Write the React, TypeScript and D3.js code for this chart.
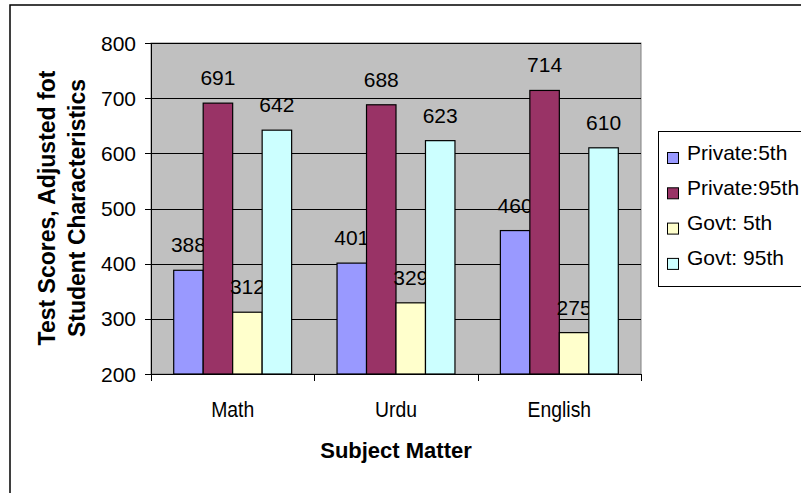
import React from "react";
import * as d3 from "d3";

const categories = ["Math", "Urdu", "English"];
const seriesNames = ["Private:5th", "Private:95th", "Govt: 5th", "Govt: 95th"];
const private5 = [388, 401, 460];
const private95 = [691, 688, 714];
const govt5 = [312, 329, 275];
const govt95 = [642, 623, 610];
const yTicks = [200, 300, 400, 500, 600, 700, 800];
const colors = ["#9999FF", "#993366", "#FFFFCC", "#CCFFFF"];

const W = 801;
const H = 493;
const plot = { left: 151, right: 641, top: 43, bottom: 374 };
const FONT = "Arial, 'Liberation Sans', Helvetica, sans-serif";

export default function App() {
  const series = [private5, private95, govt5, govt95];
  const x = d3.scaleBand<string>().domain(categories).range([plot.left, plot.right]).padding(0);
  const xs = d3.scaleBand<string>().domain(seriesNames).range([0, x.bandwidth()]).paddingInner(0).paddingOuter(0.77);
  const y = d3.scaleLinear().domain([200, 800]).range([plot.bottom, plot.top]);

  return (
    <svg width={W} height={H} style={{ position: "absolute", left: 0, top: 0, background: "#fff" }} fontFamily={FONT}>
      <rect x={10} y={5} width={W + 20} height={H + 20} fill="#fff" stroke="#000" strokeWidth={1.5} />
      <rect x={plot.left} y={plot.top} width={plot.right - plot.left} height={plot.bottom - plot.top} fill="#C0C0C0" stroke="#808080" strokeWidth={1} />
      {yTicks.map((t) => (
        <g key={t}>
          {t > 200 && <line x1={plot.left} x2={plot.right} y1={Math.round(y(t)) + 0.5} y2={Math.round(y(t)) + 0.5} stroke="#000" strokeWidth={1} />}
          <line x1={plot.left - 6} x2={plot.left} y1={Math.round(y(t)) + 0.5} y2={Math.round(y(t)) + 0.5} stroke="#000" strokeWidth={1} />
          <text x={136} y={y(t) + 7.5} textAnchor="end" fontSize={21} fill="#000">{t}</text>
        </g>
      ))}
      {categories.map((c, ci) => (
        <g key={c}>
          {series.map((s, si) => {
            const bx = (x(c) as number) + (xs(seriesNames[si]) as number);
            const by = y(s[ci]);
            return (
              <g key={si}>
                <rect x={bx} y={by} width={xs.bandwidth()} height={plot.bottom - by} fill={colors[si]} stroke="#000" strokeWidth={1.2} />
                <text x={bx + xs.bandwidth() / 2} y={by - 18} textAnchor="middle" fontSize={21} fill="#000">{s[ci]}</text>
              </g>
            );
          })}
        </g>
      ))}
      <line x1={plot.left + 0.5} x2={plot.left + 0.5} y1={plot.top} y2={plot.bottom} stroke="#000" />
      <line x1={plot.left - 6} x2={plot.right} y1={plot.bottom + 0.5} y2={plot.bottom + 0.5} stroke="#000" />
      {[...categories.map((c) => x(c) as number), plot.right].map((v, i) => (
        <line key={i} x1={Math.round(v) + 0.5} x2={Math.round(v) + 0.5} y1={plot.bottom} y2={plot.bottom + 7} stroke="#000" />
      ))}
      {categories.map((c) => {
        const cx = (x(c) as number) + x.bandwidth() / 2;
        return (
          <text key={c} x={cx} y={417} textAnchor="middle" fontSize={22} fill="#000" transform={`translate(${cx},0) scale(0.88,1) translate(${-cx},0)`}>{c}</text>
        );
      })}
      <text x={396} y={458} textAnchor="middle" fontSize={22} fontWeight="bold" fill="#000">Subject Matter</text>
      <g transform="translate(0,208) rotate(-90)">
        <text x={0} y={55} textAnchor="middle" fontSize={23} fontWeight="bold" fill="#000">Test Scores, Adjusted fot</text>
        <text x={0} y={85} textAnchor="middle" fontSize={23} fontWeight="bold" fill="#000">Student Characteristics</text>
      </g>
      <rect x={658.5} y={131.5} width={200} height={155} fill="#fff" stroke="#000" strokeWidth={1} />
      {seriesNames.map((n, i) => {
        const base = 159.5 + i * 35.3;
        return (
          <g key={n}>
            <rect x={667.5} y={base - 7} width={11} height={11} fill={colors[i]} stroke="#000" strokeWidth={1} />
            <text x={687} y={base} fontSize={21} fill="#000">{n}</text>
          </g>
        );
      })}
    </svg>
  );
}
